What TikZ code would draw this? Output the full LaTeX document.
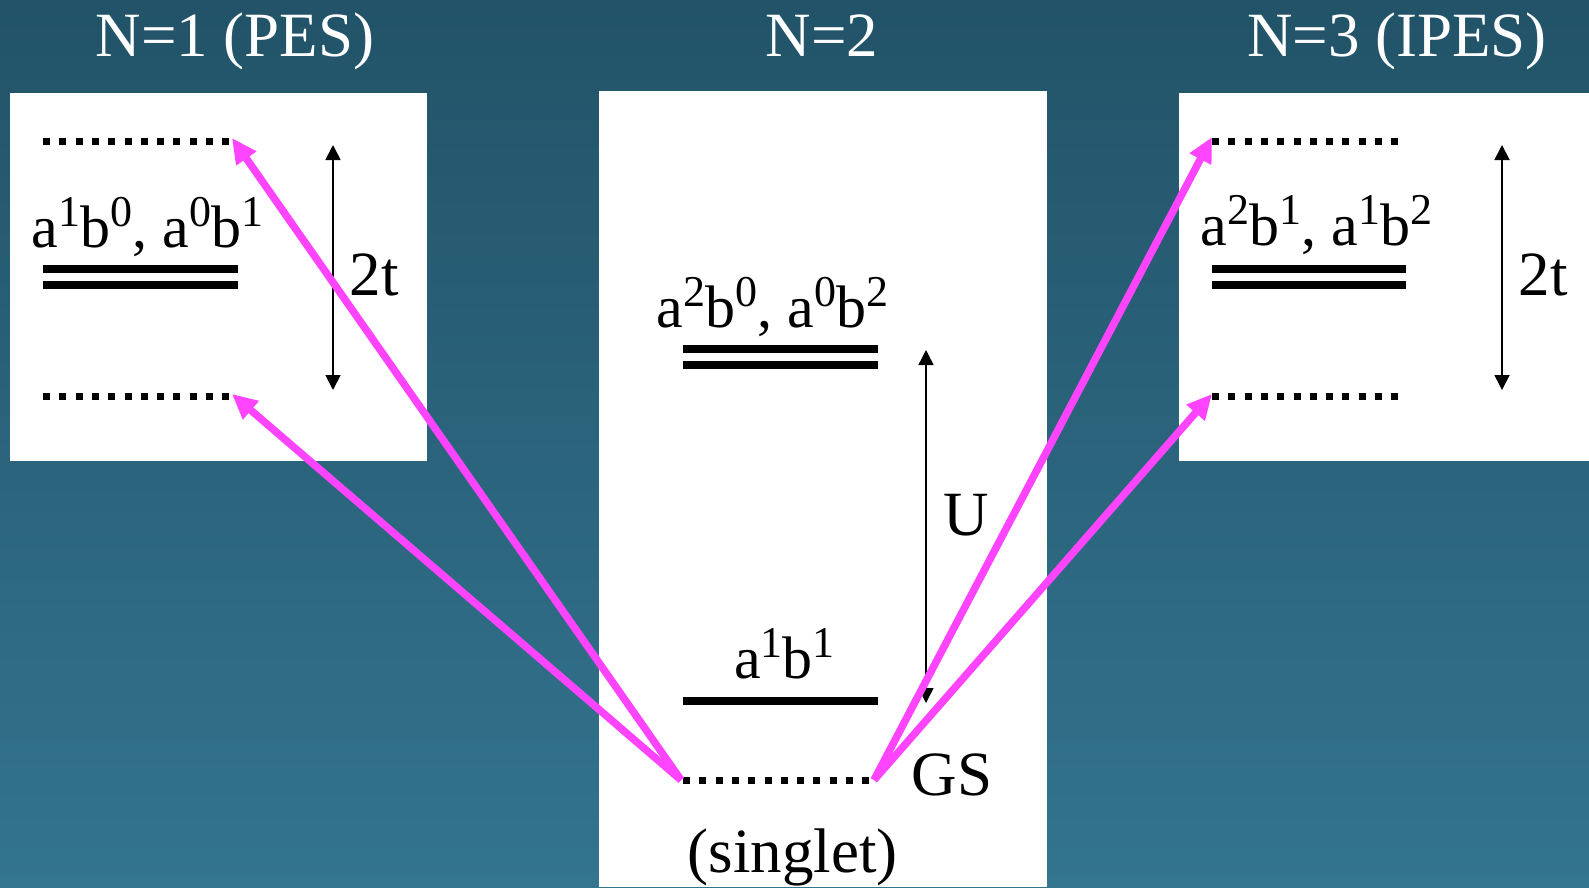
\documentclass[tikz,border=0pt]{standalone}
\usepackage{fontspec}
\setmainfont{Liberation Serif}
\usetikzlibrary{arrows.meta}
\definecolor{slidetop}{RGB}{34,83,104}
\definecolor{slidebot}{RGB}{51,116,143}
\definecolor{pesmag}{RGB}{255,68,255}
\newcommand{\expo}[1]{\raisebox{21pt}{\fontsize{44}{44}\selectfont #1}}

\begin{document}
\begin{tikzpicture}[x=1pt,y=-1pt,
    head/.style={white,font=\fontsize{63}{63}\selectfont,inner sep=0pt,anchor=base},
    tag/.style={font=\fontsize{63}{63}\selectfont,inner sep=0pt,anchor=base},
    cfg/.style={font=\fontsize{60}{60}\selectfont,inner sep=0pt,anchor=base},
    dots/.style={line width=7pt,dash pattern=on 7pt off 9.3pt},
    bar/.style={line width=7.5pt},
    gap/.style={line width=1.8pt,{Triangle[length=15pt,width=15pt]}-{Triangle[length=15pt,width=15pt]}},
    jump/.style={pesmag,line width=7.5pt,-{Triangle[length=25pt,width=23pt]}}]
  \shade[top color=slidetop,bottom color=slidebot] (0,0) rectangle (1589,887);
  \useasboundingbox (0,0) rectangle (1589,887);
  % panels
  \fill[white] (10,93) rectangle (427,461);
  \fill[white] (599,91) rectangle (1047,887);
  \fill[white] (1179,93) rectangle (1589,461);
  \node[head] (n1) at (235,56) {N=1 (PES)};
  \node[head] (n2) at (822,56) {N=2};
  \node[head] (n3) at (1397,56) {N=3 (IPES)};
  % one-electron and three-electron levels
  \foreach \s/\xa/\xb/\xc in {l/43/230/238,r/1212/1398/1406}{
    \coordinate (\s-up-w) at (\xa,141); \coordinate (\s-up-e) at (\xb,141);
    \coordinate (\s-dn-w) at (\xa,396); \coordinate (\s-dn-e) at (\xb,396);
    \coordinate (\s-mid-w) at (\xa,269); \coordinate (\s-mid-e) at (\xc,269);
    \draw[dots] (\s-up-w) -- (\s-up-e);
    \draw[dots] (\s-dn-w) -- (\s-dn-e);
    \draw[bar] (\s-mid-w) -- (\s-mid-e);
    \draw[bar] ([yshift=-16pt]\s-mid-w) -- ([yshift=-16pt]\s-mid-e);}
  \node[cfg] (l-cfg) at (147.5,247) {a\expo{1}b\expo{0}, a\expo{0}b\expo{1}};
  \node[cfg] (r-cfg) at (1316.5,245) {a\expo{2}b\expo{1}, a\expo{1}b\expo{2}};
  \coordinate (l-gap-t) at (333,145); \coordinate (l-gap-b) at (333,390);
  \coordinate (r-gap-t) at (1502,145); \coordinate (r-gap-b) at (1502,390);
  \draw[gap] (l-gap-t) -- (l-gap-b);
  \draw[gap] (r-gap-t) -- (r-gap-b);
  \node[tag] (l-2t) at (374,295) {2t};
  \node[tag] (r-2t) at (1543,295) {2t};
  % two-electron levels
  \coordinate (ion-w) at (683,349); \coordinate (ion-e) at (878,349);
  \draw[bar] (ion-w) -- (ion-e);
  \draw[bar] ([yshift=-16pt]ion-w) -- ([yshift=-16pt]ion-e);
  \node[cfg] (ion-cfg) at (772.5,327) {a\expo{2}b\expo{0}, a\expo{0}b\expo{2}};
  \coordinate (cov-w) at (683,701); \coordinate (cov-e) at (878,701);
  \draw[line width=8pt] (cov-w) -- (cov-e);
  \node[cfg] (cov-cfg) at (784.5,678) {a\expo{1}b\expo{1}};
  \coordinate (gs-w) at (683,780); \coordinate (gs-e) at (870,780);
  \draw[dots] (gs-w) -- (gs-e);
  \node[tag] (gs) at (952,795) {GS};
  \node[tag] (sing) at (792.5,872) {(singlet)};
  \coordinate (u-t) at (926,350); \coordinate (u-b) at (926,703);
  \draw[gap,line width=1.5pt] (u-t) -- (u-b);
  \node[tag] (u) at (966,535) {U};
  % removal / addition of an electron
  \draw[jump] ([xshift=-2pt]gs-w) -- ([shift={(2pt,3pt)}]l-up-e);
  \draw[jump] ([xshift=-2pt]gs-w) -- ([shift={(2pt,2pt)}]l-dn-e);
  \draw[jump] ([xshift=4pt]gs-e) -- ([shift={(0pt,4pt)}]r-up-w);
  \draw[jump] ([xshift=4pt]gs-e) -- ([shift={(0pt,2pt)}]r-dn-w);
\end{tikzpicture}
\end{document}
